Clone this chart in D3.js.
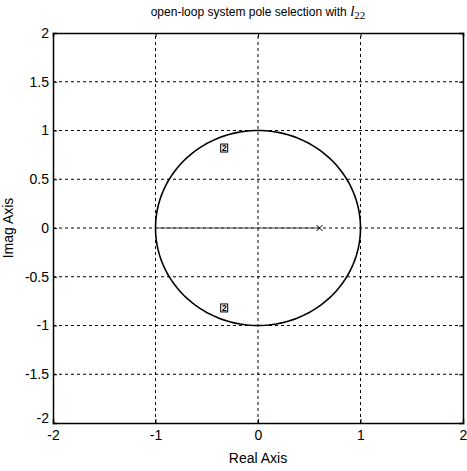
<!DOCTYPE html>
<html>
<head>
    <meta charset="utf-8">
    <title>Pole map</title>
    <script src="https://d3js.org/d3.v7.min.js"></script>
    <style>
        body { margin: 0; background: #fff; }
        text { font-family: "Liberation Sans", Arial, sans-serif; fill: #000; }
    </style>
</head>
<body>
    <div id="chart"></div>
    <script>
        // data
        var xTicks = [-2, -1, 0, 1, 2];
        var yTicks = [-2, -1.5, -1, -0.5, 0, 0.5, 1, 1.5, 2];
        var poleRe = [-0.33, -0.33];
        var poleIm = [0.82, -0.82];
        var poleLabels = ["2", "2"];
        var locusRe = [-1, 0.6];     // solid segment on the real axis
        var zeroRe = [0.6];           // 'x' marker
        var unitAngles = d3.range(0, 361, 2);

        var width = 467, height = 471;
        var margin = {left: 53, right: 4, top: 33, bottom: 48};

        var svg = d3.select("#chart").append("svg")
            .attr("width", width)
            .attr("height", height);

        var x = d3.scaleLinear().domain([-2, 2]).range([margin.left, width - margin.right]);
        var y = d3.scaleLinear().domain([-2, 2]).range([height - margin.bottom, margin.top]);

        var fmt = function(d) { return String(d); };

        // grid
        svg.append("g").selectAll("line")
            .data(xTicks.slice(1, -1))
            .enter().append("line")
            .attr("x1", function(d) { return x(d); })
            .attr("x2", function(d) { return x(d); })
            .attr("y1", y(-2)).attr("y2", y(2))
            .attr("stroke", "#000").attr("stroke-width", 1)
            .attr("stroke-dasharray", "3,3");
        svg.append("g").selectAll("line")
            .data(yTicks.slice(1, -1))
            .enter().append("line")
            .attr("y1", function(d) { return y(d); })
            .attr("y2", function(d) { return y(d); })
            .attr("x1", x(-2)).attr("x2", x(2))
            .attr("stroke", "#000").attr("stroke-width", 1)
            .attr("stroke-dasharray", "3,3");

        // axes (ticks point inward)
        svg.append("g")
            .attr("transform", "translate(0," + y(-2) + ")")
            .call(d3.axisBottom(x).tickValues(xTicks).tickSize(-4).tickPadding(7).tickFormat(fmt));
        var yAxis = svg.append("g")
            .attr("transform", "translate(" + x(-2) + ",0)")
            .call(d3.axisLeft(y).tickValues(yTicks).tickSize(-4).tickPadding(4).tickFormat(fmt));
        // bottom y label sits a little higher, as in the reference
        yAxis.selectAll(".tick text").filter(function(d) { return d === -2; }).attr("dy", "-0.05em");
        svg.append("g")
            .attr("transform", "translate(0," + y(2) + ")")
            .call(d3.axisTop(x).tickValues(xTicks).tickSize(-4).tickFormat(""));
        svg.append("g")
            .attr("transform", "translate(" + x(2) + ",0)")
            .call(d3.axisRight(y).tickValues(yTicks).tickSize(-4).tickFormat(""));
        svg.selectAll(".domain").attr("stroke", "#000").attr("stroke-width", 1.5);
        svg.selectAll(".tick text").style("font-size", "14px").style("font-family", "Liberation Sans, Arial, sans-serif");

        // unit circle
        var line = d3.line()
            .x(function(a) { return x(Math.cos(a * Math.PI / 180)); })
            .y(function(a) { return y(Math.sin(a * Math.PI / 180)); });
        svg.append("path")
            .datum(unitAngles)
            .attr("d", line)
            .attr("fill", "none")
            .attr("stroke", "#000")
            .attr("stroke-width", 1.6);

        // real-axis locus
        svg.append("line")
            .attr("x1", x(locusRe[0])).attr("x2", x(locusRe[1]))
            .attr("y1", y(0)).attr("y2", y(0))
            .attr("stroke", "#444").attr("stroke-width", 1);

        // x marker
        svg.selectAll(".xm")
            .data(zeroRe)
            .enter().append("path")
            .attr("class", "xm")
            .attr("d", function(d) {
                var cx = x(d), cy = y(0), s = 3;
                return "M" + (cx - s) + "," + (cy - s) + "L" + (cx + s) + "," + (cy + s) +
                       "M" + (cx - s) + "," + (cy + s) + "L" + (cx + s) + "," + (cy - s);
            })
            .attr("stroke", "#000").attr("stroke-width", 1);

        // pole markers with multiplicity labels
        var poles = svg.selectAll(".pole")
            .data(poleRe)
            .enter().append("g")
            .attr("class", "pole")
            .attr("transform", function(d, i) { return "translate(" + x(d) + "," + y(poleIm[i]) + ")"; });
        poles.append("rect")
            .attr("x", -3.5).attr("y", -4).attr("width", 7).attr("height", 8)
            .attr("fill", "none").attr("stroke", "#000").attr("stroke-width", 1);
        poles.append("text")
            .attr("text-anchor", "middle")
            .attr("dy", "0.35em")
            .style("font-size", "9px")
            .style("font-weight", "bold")
            .text(function(d, i) { return poleLabels[i]; });

        // title and labels
        var title = svg.append("text")
            .attr("x", x(0))
            .attr("y", 16)
            .attr("text-anchor", "middle")
            .style("font-size", "12px");
        title.append("tspan").text("open-loop system pole selection with ");
        title.append("tspan").style("font-style", "italic").style("font-family", "Liberation Serif, serif")
            .style("font-size", "15px").text("l");
        title.append("tspan").attr("dy", 3).style("font-family", "Liberation Serif, serif")
            .style("font-size", "11px").text("22");

        svg.append("text")
            .attr("x", x(0))
            .attr("y", 463)
            .attr("text-anchor", "middle")
            .style("font-size", "14px")
            .text("Real Axis");

        svg.append("text")
            .attr("transform", "translate(13," + y(0) + ") rotate(-90)")
            .attr("text-anchor", "middle")
            .style("font-size", "14px")
            .text("Imag Axis");
    </script>
</body>
</html>
